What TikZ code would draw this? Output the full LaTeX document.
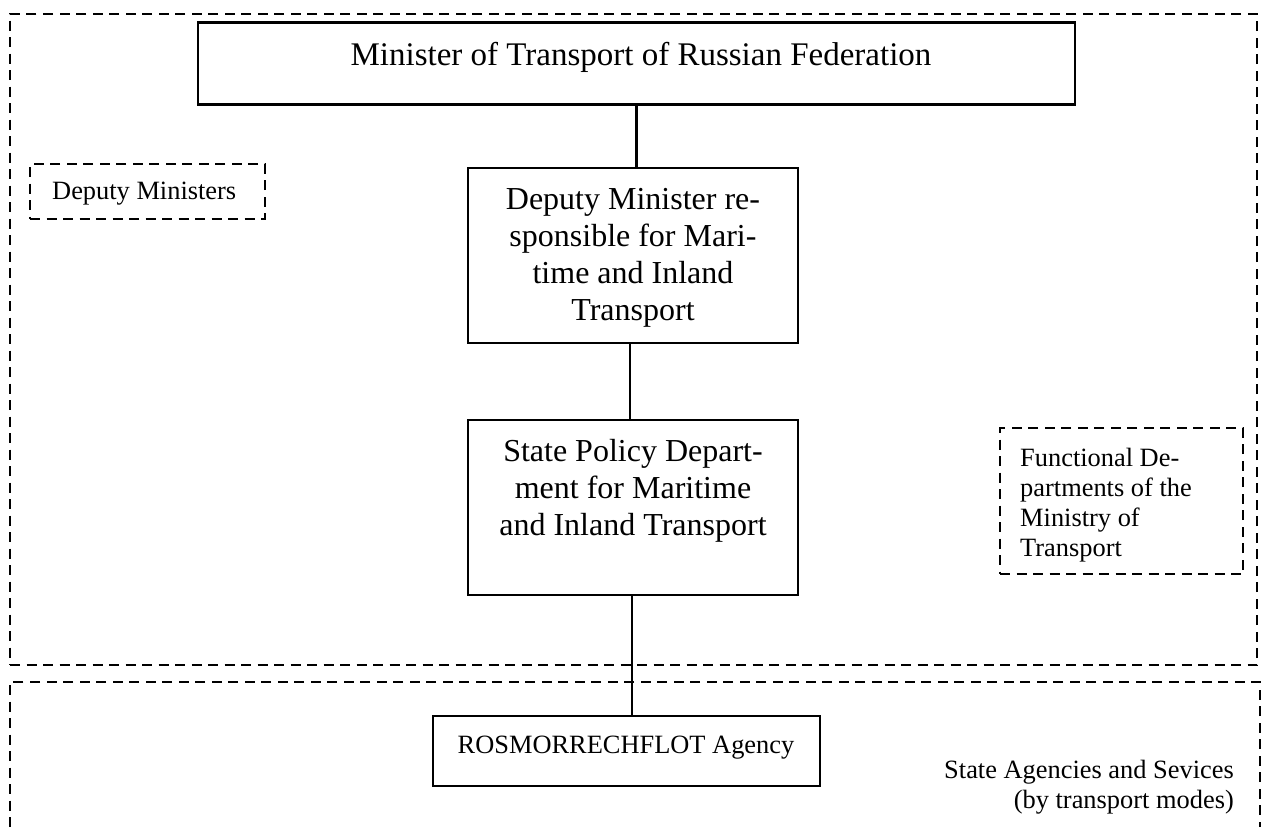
\documentclass[tikz,border=0pt]{standalone}
\usepackage{fontspec}
\setmainfont{Liberation Serif}
\begin{document}
\begin{tikzpicture}[x=1pt,y=-1pt,
  solidbox/.style={draw, line width=2.6pt, inner sep=0pt, rectangle},
  dashbox/.style={draw, line width=2.6pt, inner sep=0pt, rectangle, dash pattern=on 10pt off 6.5pt},
  bigtext/.style={font=\fontsize{32}{37}\selectfont, align=center, inner sep=0pt},
  smalltext/.style={font=\fontsize{26.4}{30}\selectfont, inner sep=0pt},
  link/.style={line width=2.2pt}]
\useasboundingbox (0,0) rectangle (1270,827);
% regions
\node[dashbox, minimum width=1247pt, minimum height=651pt] (ministry) at (633.5,339.5) {};
\node[dashbox, minimum width=1250pt, minimum height=170pt] (agencies) at (635,767) {};
% boxes
\node[solidbox, minimum width=877pt, minimum height=82pt] (minister) at (636.5,63.5) {};
\node[bigtext, font=\fontsize{33}{38}\selectfont] (ministert) at (641,57) {Minister of Transport of Russian Federation};
\node[solidbox, minimum width=330pt, minimum height=175pt] (deputy) at (633,255.5) {};
\node[bigtext] (deputyt) at (633,258) {Deputy Minister re-\\sponsible for Mari-\\time and Inland\\Transport};
\node[solidbox, minimum width=330pt, minimum height=175pt] (state) at (633,507.5) {};
\node[bigtext] (statet) at (633,491) {State Policy Depart-\\ment for Maritime\\and Inland Transport};
\node[solidbox, minimum width=387pt, minimum height=70pt] (ros) at (626.5,751) {};
\node[smalltext] (rost) at (626,748) {ROSMORRECHFLOT Agency};
% dashed side boxes
\node[dashbox, minimum width=235pt, minimum height=55pt] (deps) at (147.5,191.5) {};
\node[smalltext, anchor=west] (depst) at (52,194) {Deputy Ministers};
\node[dashbox, minimum width=243pt, minimum height=146pt] (func) at (1121.5,501) {};
\node[smalltext, anchor=north west, align=left] (funct) at (1020,448) {Functional De-\\partments of the\\Ministry of\\Transport};
\node[smalltext, anchor=north east, align=right] (agt) at (1234,760) {State Agencies and Sevices\\(by transport modes)};
% connectors
\draw[link] (minister.south) -- (minister.south |- deputy.north);
\draw[link] ([xshift=-3pt]deputy.south) -- ([xshift=-3pt]deputy.south |- state.north);
\draw[link] ([xshift=-1pt]state.south) -- ([xshift=-1pt]state.south |- ros.north);
\end{tikzpicture}
\end{document}
